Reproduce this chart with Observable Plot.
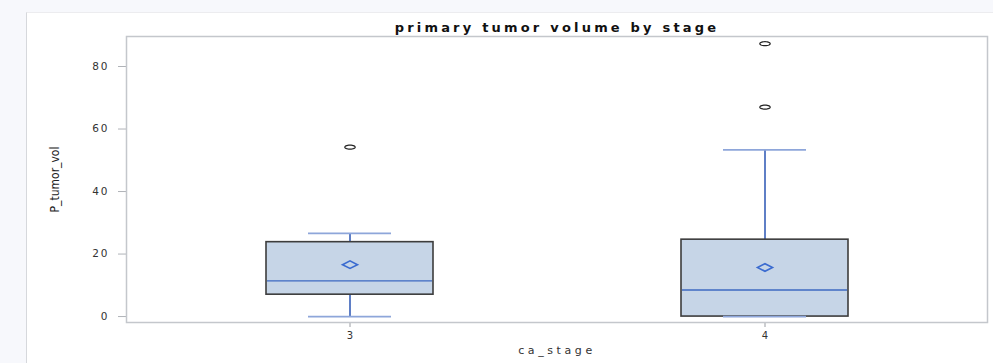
<!DOCTYPE html>
<html>
<head>
<meta charset="utf-8">
<script src="https://cdn.jsdelivr.net/npm/d3@7"></script>
<script src="https://cdn.jsdelivr.net/npm/@observablehq/plot@0.6"></script>
<style>
  html, body { margin: 0; padding: 0; background: #f7f8fc; }
  #wrap { position: relative; width: 993px; height: 363px; overflow: hidden; }
  #panel { position: absolute; left: 26px; top: 12px; right: 0; bottom: 0;
           background: #ffffff; border-left: 1.5px solid #d6d8dc; border-top: 1px solid #ececef; }
  #chart { position: absolute; left: 0; top: 0; }
  #chart svg [aria-label="y-axis tick"] { stroke: #b0b3b8; }
  #chart svg [aria-label="x-axis tick"] { stroke: #9a9da3; }
  #chart svg [aria-label="y-axis tick label"] { fill: #333; letter-spacing: 2px; font-size: 10.5px; }
  #chart svg [aria-label="x-axis tick label"] { fill: #333; }
</style>
</head>
<body>
<div id="wrap">
  <div id="panel"></div>
  <div id="chart"></div>
</div>
<script>
// Summary statistics of primary tumor volume for each cancer stage
const stages   = ["3", "4"];
const whiskLo  = [0, 0];
const q1       = [7.0, 0];
const medians  = [11.4, 8.5];
const means    = [16.6, 15.7];
const q3       = [23.8, 24.6];
const whiskHi  = [26.6, 53.3];
// Outlying observations
const outlierStage = ["3", "4", "4"];
const outlierValue = [54.2, 67.0, 87.3];
const yTicks = [0, 20, 40, 60, 80];

const titleText = "primary tumor volume by stage";
const xLabel = "ca_stage";
const yLabel = "P_tumor_vol";

const stats = stages.map((s, i) => ({
  stage: s, lo: whiskLo[i], q1: q1[i], median: medians[i], mean: means[i], q3: q3[i], hi: whiskHi[i]
}));
const outliers = outlierStage.map((s, i) => ({stage: s, value: outlierValue[i]}));

// Wide diamond for the mean marker
const meanDiamond = {
  draw(ctx) {
    const w = 7.5, h = 3.8;
    ctx.moveTo(-w, 0); ctx.lineTo(0, -h); ctx.lineTo(w, 0); ctx.lineTo(0, h); ctx.closePath();
  }
};
// Flattened ring for outliers (polygonal ellipse)
const outlierRing = {
  draw(ctx) {
    const rx = 5.2, ry = 2.0, n = 28;
    for (let i = 0; i < n; i++) {
      const a = (2 * Math.PI * i) / n;
      const px = rx * Math.cos(a), py = ry * Math.sin(a);
      if (i === 0) ctx.moveTo(px, py); else ctx.lineTo(px, py);
    }
    ctx.closePath();
  }
};

const chart = Plot.plot({
  width: 993,
  height: 363,
  marginLeft: 126,
  marginRight: 6,
  marginTop: 36,
  marginBottom: 41,
  style: {background: "transparent", fontFamily: "DejaVu Sans, sans-serif", fontSize: "10px"},
  x: {type: "band", domain: stages, paddingInner: 0.598, paddingOuter: 0.336,
      tickSize: 5, tickPadding: 4, label: null},
  y: {domain: [-1.9, 89.6], ticks: yTicks, tickSize: 8, tickPadding: 9, label: null},
  marks: [
    Plot.frame({stroke: "#c4c7cc", strokeWidth: 1.5}),
    // whiskers
    Plot.ruleX(stats, {x: "stage", y1: "lo", y2: "q1", stroke: "#2a55b3", strokeWidth: 1.5}),
    Plot.ruleX(stats, {x: "stage", y1: "q3", y2: "hi", stroke: "#2a55b3", strokeWidth: 1.5}),
    // interquartile box
    Plot.barY(stats, {x: "stage", y1: "q1", y2: "q3", fill: "#c6d5e7", stroke: "#3d3d3d", strokeWidth: 1.6}),
    // median
    Plot.tickY(stats, {x: "stage", y: "median", stroke: "#3d68c2", strokeWidth: 1.3, insetLeft: 1, insetRight: 1}),
    // whisker caps
    Plot.tickY(stats, {x: "stage", y: "lo", stroke: "#8ea6da", strokeWidth: 1.8, insetLeft: 42, insetRight: 42}),
    Plot.tickY(stats, {x: "stage", y: "hi", stroke: "#8ea6da", strokeWidth: 1.8, insetLeft: 42, insetRight: 42}),
    // mean
    Plot.dot(stats, {x: "stage", y: "mean", symbol: meanDiamond, stroke: "#3a6bd0", strokeWidth: 1.6, fill: "none"}),
    // outliers
    Plot.dot(outliers, {x: "stage", y: "value", symbol: outlierRing, stroke: "#222", strokeWidth: 1.2, fill: "none"}),
    // titles
    Plot.text([titleText], {frameAnchor: "top", dy: -14, fontSize: 13, fontWeight: "bold", fill: "#111"}),
    Plot.text([xLabel], {frameAnchor: "bottom", dy: 31, fontSize: 11, fill: "#333"}),
    Plot.text([yLabel], {frameAnchor: "left", dx: -71, rotate: -90, textAnchor: "middle", fontSize: 12,
      fontFamily: "Liberation Sans Narrow, DejaVu Sans Condensed, sans-serif", fill: "#222"})
  ]
});

// Wide tracking for the title and the category axis label
const spacing = {[titleText]: "3.2px", [xLabel]: "3.6px"};
d3.select(chart).selectAll("text")
  .filter(function () { return this.textContent in spacing; })
  .style("letter-spacing", function () { return spacing[this.textContent]; });

document.getElementById("chart").appendChild(chart);
</script>
</body>
</html>
